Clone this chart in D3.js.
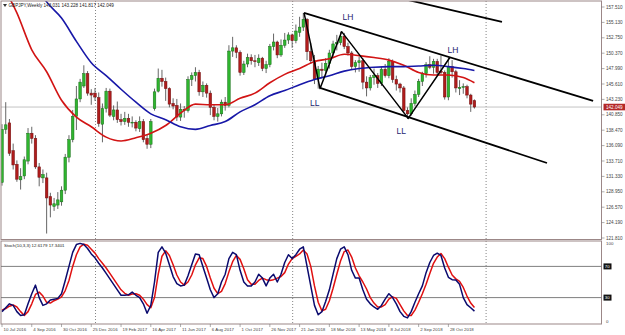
<!DOCTYPE html>
<html lang="en">
<head>
<meta charset="UTF-8">
<title>GBPJPY Weekly</title>
<script src="https://d3js.org/d3.v7.min.js"></script>
<style>
  body { margin: 0; background: #fff; }
  svg { display: block; font-family: "Liberation Sans", Arial, sans-serif; }
</style>
</head>
<body>
<div id="chart"></div>
<script>
// weekly bars, first bar = week of 10 Jul 2016
const opens = [130.4,138.6,139.6,135.3,133.2,130.8,131.4,133.7,138.0,137.2,132.8,131.1,131.1,128.2,126.7,126.9,127.4,129.2,134.3,137.0,
  140.6,143.3,145.3,147.2,144.2,144.2,143.5,139.4,141.8,144.5,140.6,141.6,140.1,139.8,140.3,139.7,139.7,138.7,139.8,137.2,
  136.3,141.8,144.5,146.5,146.0,144.9,142.6,142.3,140.5,141.7,141.5,146.3,146.9,147.4,144.4,145.4,144.2,142.0,140.6,141.0,
  142.8,142.3,150.7,151.2,150.5,147.4,148.7,149.7,149.2,148.9,149.6,148.0,148.6,151.4,152.1,150.1,151.6,152.4,153.2,152.3,
  153.6,154.4,155.6,150.6,149.2,146.4,147.9,147.7,148.8,150.4,151.8,152.0,153.0,151.4,150.4,148.3,148.9,149.2,145.9,145.0,
  146.6,146.9,145.7,147.9,146.9,149.1,146.3,145.6,145.0,141.5,141.0,142.6,144.0,146.0,147.2,148.6,148.2,149.1,147.6,147.4,
  143.6,148.3,147.5,144.9,145.1,145.2,143.9,143.031];
const highs = [139.4,142.8,140.2,136.4,133.8,132.6,134.4,138.8,139.0,137.7,133.4,132.4,131.9,128.8,128.0,128.9,129.8,134.8,137.7,141.6,
  145.3,146.4,148.5,147.6,144.8,145.0,144.3,142.6,145.0,144.9,142.3,142.9,141.0,141.3,141.0,140.6,140.0,140.6,140.2,137.8,
  140.2,144.9,148.0,147.8,146.6,145.1,143.4,143.3,142.6,142.2,146.8,147.4,148.2,147.8,146.0,145.7,144.6,142.5,141.9,143.2,
  143.6,151.6,152.9,151.6,150.8,149.2,150.3,150.2,150.1,150.2,149.8,149.2,151.8,153.4,152.3,152.5,153.5,153.6,153.4,154.8,
  156.0,156.6,155.8,152.0,150.1,148.4,148.9,149.6,150.9,152.3,153.2,153.7,153.5,152.0,150.7,149.3,149.8,149.6,146.8,147.0,
  148.0,147.3,148.3,148.7,149.6,149.4,146.9,145.8,145.3,142.0,143.4,144.6,146.4,147.5,149.0,149.9,149.5,149.5,150.0,147.7,
  149.7,149.3,147.8,146.2,145.7,145.5,144.1,143.228];
const lows = [129.9,137.9,134.5,132.4,130.5,129.3,130.9,133.2,136.4,132.5,129.8,130.3,122.5,125.0,126.0,126.3,126.8,128.6,133.5,136.6,
  138.5,142.8,145.0,143.8,142.4,143.0,139.0,136.6,141.2,140.5,140.0,139.6,139.2,139.3,139.0,138.9,138.3,138.2,136.6,135.6,
  135.7,141.5,144.3,145.2,143.0,142.0,141.7,139.9,139.9,140.4,141.2,145.3,146.0,143.8,143.6,143.5,140.8,140.0,139.8,140.6,
  141.5,142.0,149.8,149.6,146.9,147.0,148.2,148.6,148.2,148.4,147.6,147.3,148.2,150.8,149.6,149.8,151.2,151.8,151.2,151.9,
  152.9,153.8,149.3,148.7,145.6,144.9,146.5,146.9,148.0,149.6,150.8,151.6,151.0,150.0,147.9,147.4,147.5,144.8,143.7,144.6,
  145.5,145.0,145.3,146.6,146.5,145.8,144.6,144.3,141.2,140.2,140.7,142.2,143.6,145.3,146.6,147.9,147.2,147.0,147.1,143.2,
  143.1,146.6,144.3,143.9,144.1,143.4,141.3,141.817];
const closes = [138.6,139.3,134.9,133.1,130.9,131.3,133.9,138.0,137.2,132.8,131.2,131.6,128.0,126.9,127.1,127.7,129.2,134.3,137.0,140.6,
  143.3,145.9,147.2,144.2,143.9,143.6,139.5,141.8,144.5,140.8,141.6,140.1,139.8,140.3,139.7,139.7,138.8,139.8,137.0,136.3,
  139.8,144.4,146.5,146.0,144.9,142.5,142.2,140.5,141.7,141.5,146.3,146.9,147.4,144.4,145.4,144.2,142.0,140.6,141.0,142.8,
  142.3,150.7,151.2,150.5,147.4,148.7,149.7,149.2,149.1,149.6,148.0,148.6,151.4,152.1,150.1,151.6,152.4,153.2,152.3,153.8,
  154.4,155.6,150.6,149.2,146.4,147.9,147.7,148.8,150.4,151.8,152.0,153.0,151.4,150.4,148.3,148.9,149.2,145.9,145.0,146.6,
  146.9,145.7,147.9,146.9,149.1,146.3,145.6,145.0,141.5,141.0,142.6,144.0,146.0,147.2,148.6,148.2,149.1,147.4,147.4,143.6,
  148.3,147.5,145.0,145.1,145.2,143.9,142.5,142.049];

// moving averages at every 4th bar
const maBars = [0,4,8,12,16,20,24,28,32,36,40,44,48,52,56,60,64,68,72,76,80,84,88,92,96,100,104,108,112,116,120,124,127];
const maRed = [161.0,156.6,150.9,147.5,143.1,140.5,139.0,137.4,136.8,137.3,138.0,139.2,141.1,142.5,142.4,142.4,143.4,144.2,145.8,147.1,
  148.0,149.1,149.5,150.2,150.0,149.7,149.3,148.5,147.4,147.0,147.0,146.6,145.8];
const maBlue = [169.2,165.7,162.0,158.3,155.8,152.2,148.9,146.9,144.8,142.8,141.0,140.1,139.0,138.6,139.2,139.8,141.3,142.4,143.8,144.6,
  145.5,146.3,146.9,147.6,148.0,148.2,148.3,148.3,148.4,148.5,148.3,148.0,147.7];

// stochastic %K (navy) and %D (red)
const stochK = [12,17,22,20,12,7,8,22,35,46,30,20,22,27,28,29,35,52,70,88,
  98,99.5,98,93,86,81,74,68,61,54,47,40,33,33,33.5,37,33,30,22,10,
  20,50,88,95,87,72,57,48,45,46,58,72,86,85,70,55,40,30,35,50,
  60,80,88,85,65,50,45,45,50,60,55,45,55,60,50,60,75,85,80,85,
  92,95,70,45,20,8,12,25,40,60,80,92,95,85,65,55,55,40,28,22,
  18,15,20,28,35,30,22,12,6,4,12,24,35,45,62,75,84,87,84,68,
  56,53,52.5,47,30,21,17,12.6179];
const stochD = [14,16,19,20.5,18,12,7,12,22,34,37,32,24,23,26,28,31,39,52,70,
  85,95,98.5,97,92,87,80,74,68,61,54,47,40,35.5,33,34.5,35,33,28,21,
  17,30,60,83,90,84,72,59,50,46,50,59,72,81,80,70,55,42,35,38,
  48,63,76,84,79,67,53,47,47,52,55,53,52,53,55,57,62,73,80,83,
  86,91,86,70,45,24,13,15,26,42,60,77,89,91,82,68,58,50,41,30,
  23,18,18,21,28,31,29,21,13,7,7,14,24,35,47,61,74,82,86.5,80,
  69,59,54,50.7,43,32,23,17.3401];
const stochLevels = [70, 30];

const priceTicks = [157.51,155.13,152.75,150.37,147.99,145.61,143.23,140.85,138.47,136.09,133.71,131.33,128.95,126.57,124.19,121.81];
const dateLabels = ["10 Jul 2016","4 Sep 2016","30 Oct 2016","25 Dec 2016","19 Feb 2017","16 Apr 2017","11 Jun 2017","6 Aug 2017",
  "1 Oct 2017","26 Nov 2017","21 Jan 2018","18 Mar 2018","13 May 2018","8 Jul 2018","2 Sep 2018","28 Oct 2018"];
const dateBars = [0,8,16,24,32,40,48,56,64,72,80,88,96,104,112,120];
const yearStartBars = [25, 78, 130];

// hand drawn analysis: [bar, price]
const zigzag = [[81.2,156.6],[85.5,144.9],[91.3,153.7],[109.2,140.3],[120.4,149.7]];
const channels = [
  [[81.2,156.6],[158.9,143.0]],
  [[85.5,145.0],[146.5,133.4]],
  [[109.1,158.6],[134.4,155.2]]
];
const waveLabels = [
  {t:"LH", bar:93.0, price:155.9},
  {t:"LL", bar:84.1, price:142.6},
  {t:"LL", bar:107.3, price:138.4},
  {t:"LH", bar:121.2, price:150.8}
];

const W = 625, H = 335;
const L = 1, R = 601.5;
const mainTop = 1, mainBot = 239.5, subTop = 241, subBot = 324;

const x = d3.scaleLinear().domain([0, 1]).range([2, 5.72]);
const y = d3.scaleLinear().domain([121.81, 157.51]).range([238, 7]);
const ys = d3.scaleLinear().domain([0, 100]).range([321, 243]);

const svg = d3.select("#chart").append("svg").attr("width", W).attr("height", H);
svg.append("rect").attr("width", W).attr("height", H).attr("fill", "#fff");

const defs = svg.append("defs");
defs.append("clipPath").attr("id", "clipMain").append("rect")
  .attr("x", L).attr("y", mainTop).attr("width", R - L).attr("height", mainBot - mainTop);
defs.append("clipPath").attr("id", "clipSub").append("rect")
  .attr("x", L).attr("y", subTop).attr("width", R - L).attr("height", subBot - subTop);

// year separators
svg.append("g").selectAll("line").data(yearStartBars).join("line")
  .attr("x1", d => x(d) + 0.5).attr("x2", d => x(d) + 0.5)
  .attr("y1", mainTop).attr("y2", subBot)
  .attr("stroke", "#666").attr("stroke-width", 0.8).attr("stroke-dasharray", "1,2");

const main = svg.append("g").attr("clip-path", "url(#clipMain)");

// last price line
const last = closes[closes.length - 1];
main.append("line").attr("x1", L).attr("x2", R)
  .attr("y1", y(last)).attr("y2", y(last)).attr("stroke", "#c4c4c4").attr("stroke-width", 1);

// candles
const bars = d3.range(opens.length);
main.append("g").selectAll("line").data(bars).join("line")
  .attr("x1", i => x(i)).attr("x2", i => x(i))
  .attr("y1", i => y(highs[i])).attr("y2", i => y(lows[i]))
  .attr("stroke", "#555").attr("stroke-width", 0.9);
main.append("g").selectAll("rect").data(bars).join("rect")
  .attr("x", i => x(i) - 1.3).attr("width", 2.6)
  .attr("y", i => y(Math.max(opens[i], closes[i])))
  .attr("height", i => Math.max(0.8, Math.abs(y(opens[i]) - y(closes[i]))))
  .attr("fill", i => closes[i] >= opens[i] ? "#2fb52f" : "#b01c1c")
  .attr("stroke", i => closes[i] >= opens[i] ? "#176e17" : "#6e0f0f")
  .attr("stroke-width", 0.5);

// moving averages
const maLine = vals => d3.line()
  .x((d, k) => x(maBars[k])).y(d => y(d)).curve(d3.curveMonotoneX)(vals);
main.append("path").attr("d", maLine(maRed)).attr("fill", "none")
  .attr("stroke", "#d21414").attr("stroke-width", 1.6);
main.append("path").attr("d", maLine(maBlue)).attr("fill", "none")
  .attr("stroke", "#1818a8").attr("stroke-width", 1.6);

// channel and zigzag
const segLine = d3.line().x(d => x(d[0])).y(d => y(d[1]));
main.append("g").selectAll("path").data(channels).join("path")
  .attr("d", segLine).attr("fill", "none").attr("stroke", "#000").attr("stroke-width", 1.8);
main.append("path").attr("d", segLine(zigzag)).attr("fill", "none")
  .attr("stroke", "#000").attr("stroke-width", 1.5).attr("stroke-linejoin", "round");
main.append("g").selectAll("text").data(waveLabels).join("text")
  .attr("x", d => x(d.bar)).attr("y", d => y(d.price)).attr("dy", "0.35em")
  .attr("text-anchor", "middle").attr("font-size", 8.5).attr("fill", "#1d2670")
  .text(d => d.t);

// panel frames
svg.append("rect").attr("x", L).attr("y", mainTop).attr("width", R - L).attr("height", mainBot - mainTop)
  .attr("fill", "none").attr("stroke", "#9b8787").attr("stroke-width", 1);
svg.append("rect").attr("x", L).attr("y", subTop).attr("width", R - L).attr("height", subBot - subTop)
  .attr("fill", "none").attr("stroke", "#9b8787").attr("stroke-width", 1);

// price axis
const pa = svg.append("g");
pa.selectAll("line").data(priceTicks).join("line")
  .attr("x1", R).attr("x2", R + 3).attr("y1", d => y(d)).attr("y2", d => y(d))
  .attr("stroke", "#777").attr("stroke-width", 0.6);
pa.selectAll("text").data(priceTicks).join("text")
  .attr("x", R + 4.5).attr("y", d => y(d)).attr("dy", "0.35em")
  .attr("font-size", 4.6).attr("fill", "#444").text(d3.format(".3f"));
pa.append("rect").attr("x", R + 2).attr("y", y(last) - 3.3).attr("width", 22).attr("height", 6.6)
  .attr("fill", "#b42828");
pa.append("text").attr("x", R + 4.5).attr("y", y(last)).attr("dy", "0.35em")
  .attr("font-size", 4.6).attr("fill", "#fff").text(d3.format(".3f")(last));

// title
svg.append("path").attr("d", "M3,4 L7,4 L5,7 Z").attr("fill", "#333");
svg.append("text").attr("x", 8.5).attr("y", 7.3).attr("font-size", 4.6).attr("fill", "#222")
  .text("GBPJPY,Weekly  " + [opens, highs, lows, closes].map(a => d3.format(".3f")(a[a.length - 1])).join(" "));

// stochastic panel
const sub = svg.append("g").attr("clip-path", "url(#clipSub)");
sub.selectAll("line.lvl").data(stochLevels).join("line").attr("class", "lvl")
  .attr("x1", L).attr("x2", R).attr("y1", d => ys(d)).attr("y2", d => ys(d))
  .attr("stroke", "#707070").attr("stroke-width", 0.9);
const stLine = d3.line().x((d, i) => x(i)).y(d => ys(d));
sub.append("path").attr("d", stLine(stochD)).attr("fill", "none")
  .attr("stroke", "#e01010").attr("stroke-width", 1.5).attr("stroke-linejoin", "round");
sub.append("path").attr("d", stLine(stochK)).attr("fill", "none")
  .attr("stroke", "#0a0a6e").attr("stroke-width", 1.5).attr("stroke-linejoin", "round");
svg.append("text").attr("x", 4).attr("y", 246.5).attr("font-size", 4.4).attr("fill", "#222")
  .text("Stoch(10,3,3) " + d3.format(".4f")(stochK[stochK.length - 1]) + " " + d3.format(".4f")(stochD[stochD.length - 1]));

const sa = svg.append("g");
sa.selectAll("text.edge").data([100, 0]).join("text").attr("class", "edge")
  .attr("x", R + 4.5).attr("y", d => ys(d)).attr("dy", "0.35em")
  .attr("font-size", 4.4).attr("fill", "#444").text(d => d);
sa.selectAll("rect").data(stochLevels).join("rect")
  .attr("x", R + 2).attr("y", d => ys(d) - 3).attr("width", 8).attr("height", 6).attr("fill", "#111");
sa.selectAll("text.lvl").data(stochLevels).join("text").attr("class", "lvl")
  .attr("x", R + 3.2).attr("y", d => ys(d)).attr("dy", "0.35em")
  .attr("font-size", 4.4).attr("fill", "#fff").text(d => d);

// time axis
const ta = svg.append("g");
ta.selectAll("line").data(dateBars).join("line")
  .attr("x1", d => x(d)).attr("x2", d => x(d)).attr("y1", subBot).attr("y2", subBot + 3)
  .attr("stroke", "#777").attr("stroke-width", 0.6);
ta.selectAll("text").data(dateLabels).join("text")
  .attr("x", (d, k) => x(dateBars[k]) + 1.5).attr("y", 330.5)
  .attr("font-size", 4.4).attr("fill", "#444").text(d => d);
</script>
</body>
</html>
